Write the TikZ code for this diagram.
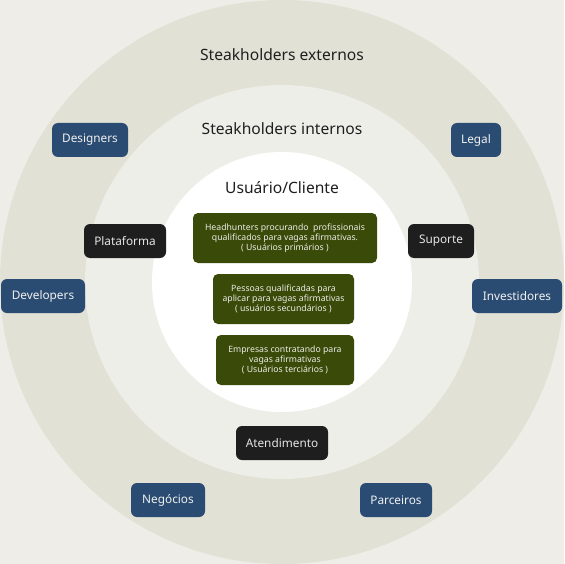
\documentclass[tikz,border=0pt]{standalone}
\usepackage{fontspec}
\setmainfont{Noto Sans}
\definecolor{fundo}{HTML}{EEEDE8}
\definecolor{anel}{HTML}{E1E1D6}
\definecolor{meio}{HTML}{EEEEE9}
\definecolor{azul}{HTML}{2B4C72}
\definecolor{preto}{HTML}{1E1E1E}
\definecolor{verde}{HTML}{3A4A08}
\tikzset{externo/.style={fill=azul,text=white!94!black,rounded corners=6pt,minimum height=34pt,inner xsep=0pt,font=\fontsize{11.8}{13}\selectfont},
	interno/.style={fill=preto,text=white!90!black,rounded corners=6pt,minimum height=34pt,inner xsep=0pt,font=\fontsize{11.8}{13}\selectfont},
	usuario/.style={fill=verde,text=white!90!verde,rounded corners=5pt,minimum height=50pt,inner xsep=0pt,align=center,font=\fontsize{8.7}{10}\selectfont},
	titulo/.style={text=black!88,font=\fontsize{15.6}{17}\selectfont}}

\begin{document}
\begin{tikzpicture}[x=1pt,y=-1pt]
				      \useasboundingbox (0,0) rectangle (564,564);
				      \fill[fundo] (0,0) rectangle (564,564);
				      \fill[anel] (282,282) circle (282);
				      \fill[meio] (282,282) circle (197);
				      \fill[white] (282,282) circle (130);

				      \node[titulo] (ext) at (282,55) {Steakholders externos};
				      \node[titulo] (int) at (282,129) {Steakholders internos};
				      \node[titulo] (usu) at (282,188) {Usuário/Cliente};

				      \node[externo,minimum width=76pt] (designers) at (90,140) {Designers};
				      \node[externo,minimum width=50pt] (legal) at (476,140) {Legal};
				      \node[externo,minimum width=84pt] (developers) at (43,296) {Developers};
				      \node[externo,minimum width=90pt] (investidores) at (517,296) {Investidores};
				      \node[externo,minimum width=74pt] (negocios) at (168,500) {Negócios};
				      \node[externo,minimum width=72pt] (parceiros) at (396,500) {Parceiros};

				      \node[interno,minimum width=82pt] (plataforma) at (125,241) {Plataforma};
				      \node[interno,minimum width=66pt] (suporte) at (441,241) {Suporte};
				      \node[interno,minimum width=92pt] (atendimento) at (282,443) {Atendimento};

				      \node[usuario,minimum width=184pt] (primarios) at (285,238) {Headhunters procurando\ \ profissionais\\qualificados para vagas afirmativas.\\( Usuários primários )};
				      \node[usuario,minimum width=141pt] (secundarios) at (283.5,299) {Pessoas qualificadas para\\aplicar para vagas afirmativas\\( usuários secundários )};
				      \node[usuario,minimum width=138pt] (terciarios) at (285,360) {Empresas contratando para\\vagas afirmativas\\( Usuários terciários )};
			      \end{tikzpicture}
\end{document}
